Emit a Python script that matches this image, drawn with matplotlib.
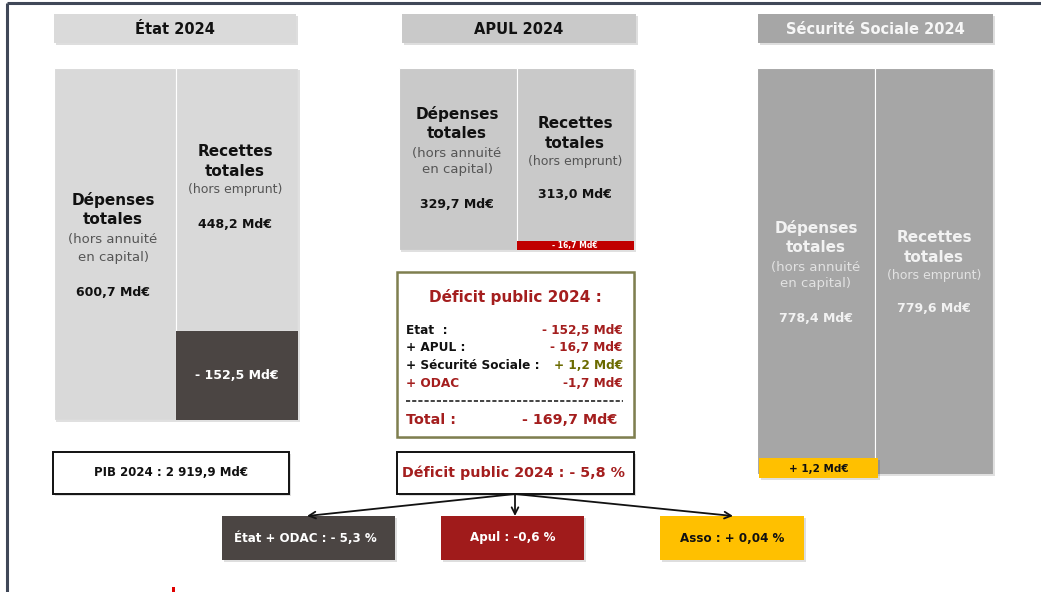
import matplotlib
matplotlib.use("Agg")
import matplotlib.pyplot as plt
from matplotlib.patches import Rectangle

plt.rcParams['font.family'] = ['DejaVu Sans']

# ---------------- data ----------------
panels = ["État 2024", "APUL 2024", "Sécurité Sociale 2024"]
depenses = [600.7, 329.7, 778.4]
recettes = [448.2, 313.0, 779.6]
soldes = [-152.5, -16.7, 1.2]
depenses_labels = ["600,7 Md€", "329,7 Md€", "778,4 Md€"]
recettes_labels = ["448,2 Md€", "313,0 Md€", "779,6 Md€"]
soldes_labels = ["- 152,5 Md€", "- 16,7 Md€", "+ 1,2 Md€"]

deficit_title = "Déficit public 2024 :"
deficit_items = ["Etat  :", "+ APUL :", "+ Sécurité Sociale :", "+ ODAC"]
deficit_values = [-152.5, -16.7, 1.2, -1.7]
deficit_value_labels = ["- 152,5 Md€", "- 16,7 Md€", "+ 1,2 Md€", "-1,7 Md€"]
total_label = "Total :"
total_value_label = "- 169,7 Md€"

pib_label = "PIB 2024 : 2 919,9 Md€"
deficit_pct_label = "Déficit public 2024 : - 5,8 %"
share_labels = ["État + ODAC : - 5,3 %", "Apul : -0,6 %", "Asso : + 0,04 %"]

# ---------------- style ----------------
W, H = 1041, 592
RED = '#a41e1e'
header_colors = ['#dadada', '#c9c9c9', '#a6a6a6']
header_text = ['#111111', '#111111', '#f7f7f7']
bar_colors = ['#d9d9d9', '#c9c9c9', '#a6a6a6']
bold_text = ['#111111', '#111111', '#f2f2f2']
sub_text = ['#555555', '#555555', '#e2e2e2']
band_colors = ['#4b4543', '#c00000', '#ffc000']
share_colors = ['#4b4543', '#a01b1b', '#ffc000']
share_text_colors = ['white', 'white', '#111111']

fig = plt.figure(figsize=(W / 100, H / 100), dpi=100)
base = fig.add_axes([0, 0, 1, 1], zorder=0)
over = fig.add_axes([0, 0, 1, 1], zorder=5)
for a in (base, over):
    a.set_xlim(0, W)
    a.set_ylim(H, 0)
    a.axis('off')
    a.set_facecolor('none')


def box(a, x0, y0, x1, y1, fc, ec='none', lw=0, shadow=True, z=1):
    if shadow:
        a.add_patch(Rectangle((x0 + 2, y0 + 2), x1 - x0, y1 - y0,
                              fc='#000000', alpha=0.13, ec='none', zorder=z - 0.5))
    a.add_patch(Rectangle((x0, y0), x1 - x0, y1 - y0, fc=fc, ec=ec, lw=lw, zorder=z))


# frame
base.plot([7, W], [3, 3], color='#404858', lw=2.2, solid_capstyle='butt')
base.plot([7, 7], [3, H], color='#404858', lw=2.2, solid_capstyle='butt')

# headers
header_x = [(54, 296), (402, 636), (758, 993)]
for i, (x0, x1) in enumerate(header_x):
    box(base, x0, 14, x1, 43, header_colors[i])
    base.text((x0 + x1) / 2, 29, panels[i], ha='center', va='center',
              fontsize=10.5, fontweight='bold', color=header_text[i])

# bar panels (pixel extents of each panel's axes)
panel_px = [(54, 298, 68, 420), (399, 634, 68, 250), (757, 993, 68, 474)]
for i, (x0, x1, y0, y1) in enumerate(panel_px):
    base.add_patch(Rectangle((x0 + 2, y0 + 2), x1 - x0, y1 - y0,
                             fc='#000000', alpha=0.12, ec='none'))
    pa = fig.add_axes([x0 / W, 1 - y1 / H, (x1 - x0) / W, (y1 - y0) / H], zorder=2)
    pa.set_facecolor('none')
    pa.axis('off')
    pa.set_xlim(-0.5, 1.5)
    pa.set_ylim(depenses[i], 0)
    pa.bar([0, 1], [depenses[i], recettes[i]], width=1.0, color=bar_colors[i],
           edgecolor='white', linewidth=0.8)
    if soldes[i] < 0:
        pa.bar([1], [-soldes[i]], bottom=[recettes[i]], width=1.0,
               color=band_colors[i], edgecolor='none')
        fs = 9 if -soldes[i] > 50 else 5.5
        pa.text(1, recettes[i] - soldes[i] / 2, soldes_labels[i], ha='center',
                va='center', fontsize=fs, fontweight='bold', color='white', zorder=4)

# surplus label for Sécurité Sociale
box(over, 759, 458, 878, 478, band_colors[2], shadow=True, z=3)
over.text(818.5, 468.5, soldes_labels[2], ha='center', va='center', fontsize=7.5,
          fontweight='bold', color='#111111', zorder=4)

# texts inside bars
dep_pos = [(113, [200, 220, 240, 257, 292]),
           (457, [114, 134, 153, 170, 205]),
           (816, [228, 247, 267, 284, 318])]
rec_pos = [(235, [152, 172, 190, 225]),
           (575, [124, 144, 162, 195]),
           (934, [237, 257, 275, 308])]
for i in range(3):
    x, ys = dep_pos[i]
    over.text(x, ys[0], "Dépenses", ha='center', va='center', fontsize=11,
              fontweight='bold', color=bold_text[i])
    over.text(x, ys[1], "totales", ha='center', va='center', fontsize=11,
              fontweight='bold', color=bold_text[i])
    over.text(x, ys[2], "(hors annuité", ha='center', va='center', fontsize=9.5,
              color=sub_text[i])
    over.text(x, ys[3], "en capital)", ha='center', va='center', fontsize=9.5,
              color=sub_text[i])
    over.text(x, ys[4], depenses_labels[i], ha='center', va='center', fontsize=9,
              fontweight='bold', color=bold_text[i])
    x, ys = rec_pos[i]
    over.text(x, ys[0], "Recettes", ha='center', va='center', fontsize=11,
              fontweight='bold', color=bold_text[i])
    over.text(x, ys[1], "totales", ha='center', va='center', fontsize=11,
              fontweight='bold', color=bold_text[i])
    over.text(x, ys[2], "(hors emprunt)", ha='center', va='center', fontsize=9,
              color=sub_text[i])
    over.text(x, ys[3], recettes_labels[i], ha='center', va='center', fontsize=9,
              fontweight='bold', color=bold_text[i])

# deficit summary box
box(base, 397, 272, 634, 437, 'white', ec='#7f7f4f', lw=1.8)
base.text(515, 297, deficit_title, ha='center', va='center', fontsize=11,
          fontweight='bold', color=RED)
item_colors = ['#111111', '#111111', '#111111', RED]
value_colors = [RED if v < 0 else '#6b6b00' for v in deficit_values]
for k, (lab, vlab) in enumerate(zip(deficit_items, deficit_value_labels)):
    y = 330 + k * 17.7
    base.text(406, y, lab, ha='left', va='center', fontsize=8.7,
              fontweight='bold', color=item_colors[k])
    base.text(623, y, vlab, ha='right', va='center', fontsize=8.7,
              fontweight='bold', color=value_colors[k])
base.plot([406, 623], [401, 401], color='#222222', lw=1.2, ls=(0, (2.5, 1.2)))
base.text(406, 420, total_label, ha='left', va='center', fontsize=10.3,
          fontweight='bold', color=RED)
base.text(617, 420, total_value_label, ha='right', va='center', fontsize=10.3,
          fontweight='bold', color=RED)

# PIB box
box(base, 53, 452, 289, 494, 'white', ec='#111111', lw=1.4)
base.text(171, 473, pib_label, ha='center', va='center', fontsize=8.5,
          fontweight='bold', color='#111111')

# deficit % box
box(base, 397, 452, 634, 494, 'white', ec='#111111', lw=1.4)
base.text(514, 473, deficit_pct_label, ha='center', va='center', fontsize=10.3,
          fontweight='bold', color=RED)

# share boxes
share_x = [(222, 395), (441, 584), (660, 804)]
for i, (x0, x1) in enumerate(share_x):
    box(base, x0, 516, x1, 560, share_colors[i])
    base.text((x0 + x1) / 2 - 3 * (i == 0), 538, share_labels[i], ha='center',
              va='center', fontsize=8.6, fontweight='bold',
              color=share_text_colors[i])

# arrows
for tx in (307, 515, 733):
    base.annotate('', xy=(tx, 516), xytext=(515, 494),
                  arrowprops=dict(arrowstyle='->', lw=1.3, color='#111111',
                                  shrinkA=0, shrinkB=0, mutation_scale=12))

# small red mark at bottom edge
base.add_patch(Rectangle((172, 587), 2.5, 5, fc='#e00000', ec='none'))

fig.savefig('out.png', dpi=100)
